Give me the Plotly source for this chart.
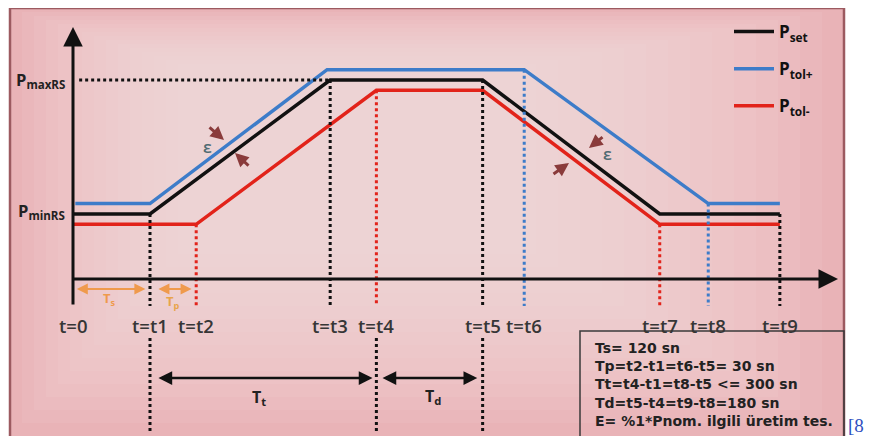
import plotly.graph_objects as go

# ---------------- data (schematic units) ----------------
T_LABELS = ["t=0", "t=t1", "t=t2", "t=t3", "t=t4", "t=t5", "t=t6", "t=t7", "t=t8", "t=t9"]
T_VALUES = [0.0, 1.0, 1.6, 3.34, 3.94, 5.32, 5.86, 7.62, 8.25, 9.18]

P_MIN = 3.27
P_MAX = 10.0
EPS = 0.52

SET_T = [0.0, 1.0, 3.34, 5.32, 7.62, 9.18]
SET_P = [3.27, 3.27, 10.0, 10.0, 3.27, 3.27]

TOLP_T = [0.03, 1.0, 3.30, 5.86, 8.25, 9.18]
TOLP_P = [3.79, 3.79, 10.52, 10.52, 3.79, 3.79]

TOLM_T = [0.0, 1.6, 3.94, 5.32, 7.62, 9.18]
TOLM_P = [2.75, 2.75, 9.48, 9.48, 2.75, 2.75]

GUIDE_IDX = [1, 2, 3, 4, 5, 6, 7, 8, 9]
GUIDE_TOP = [3.27, 2.75, 10.0, 9.48, 10.0, 10.52, 2.75, 3.79, 3.27]
GUIDE_KIND = ["set", "tolm", "set", "tolm", "set", "tolp", "tolm", "tolp", "set"]
LOWER_GUIDE_IDX = [1, 4, 5]

BOX_LINES = [
    "Ts= 120 sn",
    "Tp=t2-t1=t6-t5= 30 sn",
    "Tt=t4-t1=t8-t5 &lt;= 300 sn",
    "Td=t5-t4=t9-t8=180 sn",
    "E= %1*Pnom. ilgili üretim tes.",
]

# ---------------- styling ----------------
W, H = 872, 436
D = 8.0  # page offset of the plot div
OX, OY, SX, SY = 73.0, 279.0, 77.0, 19.9  # page-pixel origin and scale of the drawing


def X(px):
    return (px - OX) / SX


def Y(py):
    return (OY - py) / SY


def PXp(px):
    return (px - D) / W


def PYp(py):
    return 1 - (py - D) / H


COL = {"set": "#111111", "tolp": "#3d7cc9", "tolm": "#e2231a"}
FONT = "Open Sans"
TXT = "#363636"

fig = go.Figure()

fig.add_trace(go.Scatter(x=SET_T, y=SET_P, mode="lines", name="<b>P</b><sub><b>set</b></sub>",
                         line=dict(color=COL["set"], width=3.5), legendgroup="a"))
fig.add_trace(go.Scatter(x=TOLP_T, y=TOLP_P, mode="lines", name="<b>P</b><sub><b>tol+</b></sub>",
                         line=dict(color=COL["tolp"], width=3.5), legendgroup="b"))
fig.add_trace(go.Scatter(x=TOLM_T, y=TOLM_P, mode="lines", name="<b>P</b><sub><b>tol-</b></sub>",
                         line=dict(color=COL["tolm"], width=3.5), legendgroup="c"))

# PmaxRS dotted horizontal
fig.add_trace(go.Scatter(x=[T_VALUES[0] + 0.08, T_VALUES[3]], y=[P_MAX, P_MAX], mode="lines",
                         line=dict(color=COL["set"], width=3, dash="dot"), showlegend=False, hoverinfo="skip"))

# vertical guides (upper part)
y_guide_bottom = Y(306)
for i, top, kind in zip(GUIDE_IDX, GUIDE_TOP, GUIDE_KIND):
    t = T_VALUES[i]
    fig.add_trace(go.Scatter(x=[t, t], y=[top, y_guide_bottom], mode="lines",
                             line=dict(color=COL[kind], width=3, dash="dot"),
                             showlegend=False, hoverinfo="skip"))
# vertical guides (lower part)
for i in LOWER_GUIDE_IDX:
    t = T_VALUES[i]
    fig.add_trace(go.Scatter(x=[t, t], y=[Y(338), Y(434)], mode="lines",
                             line=dict(color=COL["set"], width=3, dash="dot"),
                             showlegend=False, hoverinfo="skip"))

ann = []


def arrow(x, y, ax, ay, color, width, head=2, size=1.0, both=False):
    ann.append(dict(x=x, y=y, ax=ax, ay=ay, xref="x", yref="y", axref="x", ayref="y",
                    text="", showarrow=True, arrowhead=head, arrowsize=size, arrowwidth=width,
                    arrowcolor=color, standoff=0, startstandoff=0,
                    arrowside="end+start" if both else "end", startarrowhead=head, startarrowsize=size))


# axes arrows
arrow(X(73), Y(27), X(73), Y(306), "#111111", 3, head=2, size=1.3)
arrow(X(838), Y(279), X(71), Y(279), "#111111", 3, head=2, size=1.3)

# Tt / Td double arrows
yT = Y(378)
arrow(T_VALUES[4] - 0.05, yT, T_VALUES[1] + 0.09, yT, "#111111", 2.5, head=2, size=1.1, both=True)
arrow(T_VALUES[5] - 0.07, yT, T_VALUES[4] + 0.06, yT, "#111111", 2.5, head=2, size=1.1, both=True)

# Ts / Tp orange arrows
yO = Y(289)
ORANGE = "#ef9a4c"
arrow(T_VALUES[1] - 0.06, yO, T_VALUES[0] + 0.03, yO, ORANGE, 2.2, head=2, size=1.0, both=True)
arrow(T_VALUES[2] - 0.06, yO, T_VALUES[1] + 0.09, yO, ORANGE, 2.2, head=2, size=1.0, both=True)

# epsilon arrows
EPSC = "#8a3b3b"
arrow(X(224), Y(140), X(208), Y(126), EPSC, 3, head=2, size=0.9)
arrow(X(235), Y(153), X(250), Y(167), EPSC, 3, head=2, size=0.9)
arrow(X(589), Y(148), X(604), Y(136), EPSC, 3, head=2, size=0.9)
arrow(X(569), Y(163), X(552), Y(175), EPSC, 3, head=2, size=0.9)


def text(x, y, s, size, color=TXT, anchor="center", weight=700, family=FONT, yanchor="middle"):
    ann.append(dict(x=x, y=y, xref="x", yref="y", text=s, showarrow=False, xanchor=anchor,
                    yanchor=yanchor, font=dict(family=family, size=size, color=color, weight=weight)))


# epsilon labels
text(X(207), Y(146), "ε", 17, color="#4f6b72", weight=600)
text(X(607), Y(153), "ε", 17, color="#4f6b72", weight=600)

# time labels
for lab, t in zip(T_LABELS, T_VALUES):
    text(t, Y(325), lab, 18.5, weight=600)

# level labels
text(X(67), P_MAX, "P<sub>maxRS</sub>", 16.5, color="#222222", anchor="right")
text(X(67), Y(211), "P<sub>minRS</sub>", 16.5, color="#222222", anchor="right")

# T labels
text((T_VALUES[0] + T_VALUES[1]) / 2 - 0.03, Y(299), "T<sub>s</sub>", 13, color=ORANGE)
text((T_VALUES[1] + T_VALUES[2]) / 2, Y(302), "T<sub>p</sub>", 13, color="#e8a44a")
text((T_VALUES[1] + T_VALUES[4]) / 2 - 0.05, Y(397), "T<sub>t</sub>", 16, color="#222222")
text((T_VALUES[4] + T_VALUES[5]) / 2 + 0.05, Y(396), "T<sub>d</sub>", 16, color="#222222")

# box text (one block)
ann.append(dict(x=X(594), y=Y(339), xref="x", yref="y", text="<br>".join(BOX_LINES),
                showarrow=False, xanchor="left", yanchor="top", align="left", borderpad=0,
                font=dict(family="DejaVu Sans", size=14, color="#222222", weight=700)))

# reference mark
ann.append(dict(x=PXp(847), y=PYp(425), xref="paper", yref="paper", text="[8", showarrow=False,
                xanchor="left", yanchor="middle", borderpad=0,
                font=dict(family="Liberation Serif", size=19, color="#2f4fbf")))

# background: base pink with lighter nested layers toward the centre (soft vignette)
shapes = [
    dict(type="rect", xref="paper", yref="paper", x0=PXp(10), x1=PXp(844), y0=-0.1, y1=PYp(8),
         fillcolor="#e9b3b7", line=dict(width=0), layer="below"),
]
for k in range(1, 15):
    shapes.append(dict(type="rect", xref="paper", yref="paper",
                       x0=PXp(10 + 12 * k), x1=PXp(844 - 22 * k),
                       y0=PYp(436 - 13 * k), y1=PYp(8 + 4 * k),
                       fillcolor="rgba(250,230,230,0.10)", line=dict(width=0), layer="below"))
shapes += [
    dict(type="rect", xref="paper", yref="paper", x0=PXp(10), x1=PXp(844), y0=-0.1, y1=PYp(8),
         fillcolor="rgba(0,0,0,0)", line=dict(color="#9c5a60", width=2.5), layer="below"),
    dict(type="rect", xref="paper", yref="paper", x0=PXp(580), x1=PXp(844), y0=-0.1, y1=PYp(331),
         fillcolor="rgba(0,0,0,0)", line=dict(color="#3a3a3a", width=1.5), layer="below"),
]

fig.update_layout(
    width=W, height=H, margin=dict(l=0, r=0, t=0, b=0),
    paper_bgcolor="white", plot_bgcolor="rgba(0,0,0,0)",
    xaxis=dict(range=[X(D), X(W + D)], visible=False, fixedrange=True),
    yaxis=dict(range=[Y(H + D), Y(D)], visible=False, fixedrange=True),
    showlegend=True,
    legend=dict(x=PXp(729), y=PYp(14), xanchor="left", yanchor="top", bgcolor="rgba(0,0,0,0)",
                tracegroupgap=12, font=dict(family=FONT, size=17, color="#111111"),
                itemwidth=40),
    annotations=ann, shapes=shapes,
)

fig.write_html("out.html")
